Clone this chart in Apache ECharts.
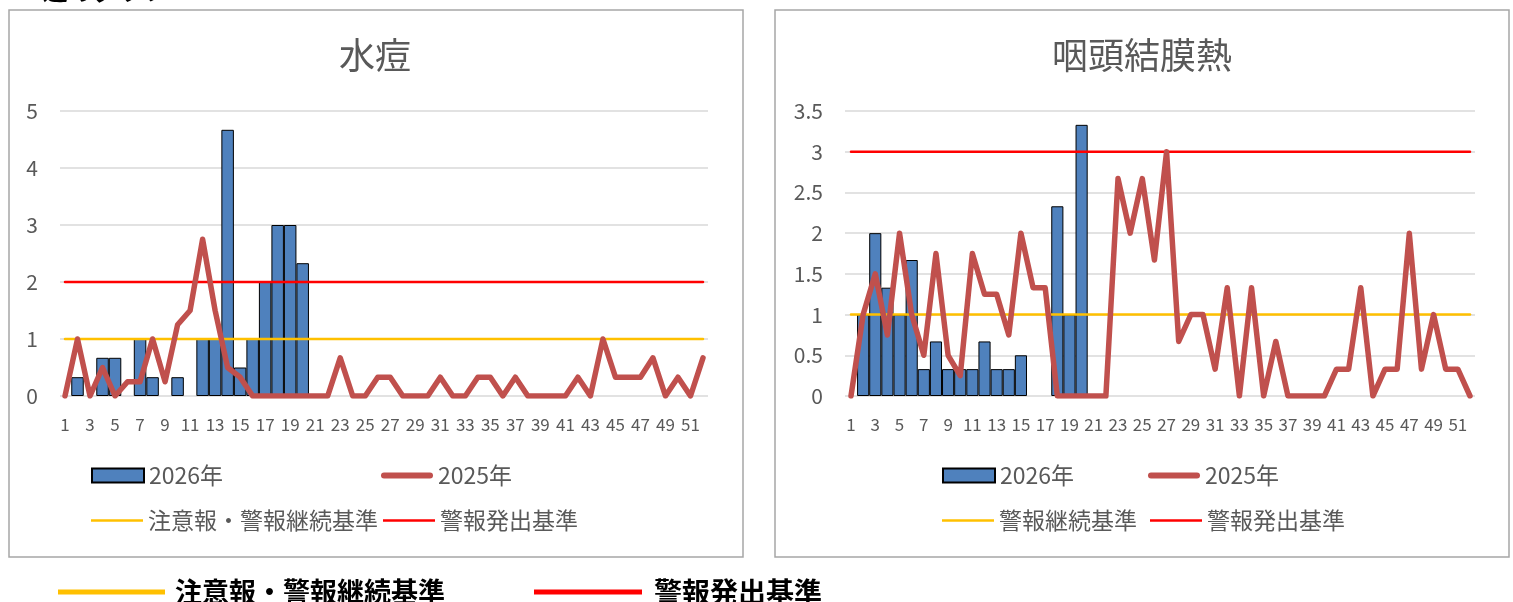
<!DOCTYPE html>
<html>
<head>
<meta charset="utf-8">
<script src="https://cdn.jsdelivr.net/npm/echarts@6/dist/echarts.min.js"></script>
<style>
html,body{margin:0;padding:0;background:#fff;}
#c{width:1513px;height:602px;}
</style>
</head>
<body>
<div id="c"></div>
<script>
// ---- data ----
const weeks = ['1','2','3','4','5','6','7','8','9','10','11','12','13','14','15','16','17','18','19','20','21','22','23','24','25','26','27','28','29','30','31','32','33','34','35','36','37','38','39','40','41','42','43','44','45','46','47','48','49','50','51','52'];

// 水痘
const mizu2026 = [0,0.33,0,0.67,0.67,0,1,0.33,0,0.33,0,1,1,4.67,0.5,1,2,3,3,2.33,
  null,null,null,null,null,null,null,null,null,null,null,null,null,null,null,null,
  null,null,null,null,null,null,null,null,null,null,null,null,null,null,null,null];
const mizu2025 = [0,1,0,0.5,0,0.25,0.25,1,0.25,1.25,1.5,2.75,1.5,0.5,0.33,0,0,0,0,0,0,0,0.67,0,0,0.33,
  0.33,0,0,0,0.33,0,0,0.33,0.33,0,0.33,0,0,0,0,0.33,0,1,0.33,0.33,0.33,0.67,0,0.33,0,0.67];
const mizuChui = [1,1,1,1,1,1,1,1,1,1,1,1,1,1,1,1,1,1,1,1,1,1,1,1,1,1,1,1,1,1,1,1,1,1,1,1,1,1,1,1,1,1,1,1,1,1,1,1,1,1,1,1];
const mizuKeiho = [2,2,2,2,2,2,2,2,2,2,2,2,2,2,2,2,2,2,2,2,2,2,2,2,2,2,2,2,2,2,2,2,2,2,2,2,2,2,2,2,2,2,2,2,2,2,2,2,2,2,2,2];

// 咽頭結膜熱
const intou2026 = [0,1,2,1.33,1,1.67,0.33,0.67,0.33,0.33,0.33,0.67,0.33,0.33,0.5,0,0,2.33,1,3.33,
  null,null,null,null,null,null,null,null,null,null,null,null,null,null,null,null,
  null,null,null,null,null,null,null,null,null,null,null,null,null,null,null,null];
const intou2025 = [0,1,1.5,0.75,2,1,0.5,1.75,0.5,0.25,1.75,1.25,1.25,0.75,2,1.33,1.33,0,0,0,
  0,0,2.67,2,2.67,1.67,3,0.67,1,1,0.33,1.33,0,1.33,0,0.67,0,0,0,0,
  0.33,0.33,1.33,0,0.33,0.33,2,0.33,1,0.33,0.33,0];
const intouKeizoku = [1,1,1,1,1,1,1,1,1,1,1,1,1,1,1,1,1,1,1,1,1,1,1,1,1,1,1,1,1,1,1,1,1,1,1,1,1,1,1,1,1,1,1,1,1,1,1,1,1,1,1,1];
const intouHasshutsu = [3,3,3,3,3,3,3,3,3,3,3,3,3,3,3,3,3,3,3,3,3,3,3,3,3,3,3,3,3,3,3,3,3,3,3,3,3,3,3,3,3,3,3,3,3,3,3,3,3,3,3,3];

const titles = ['水痘','咽頭結膜熱'];
const yTicksLeft = {min:0, max:5, interval:1};
const yTicksRight = {min:0, max:3.5, interval:0.5};

// ---- styles ----
const FONT = '"Noto Sans CJK JP","Noto Sans",sans-serif';
const GRAY = '#595959';
const GRID_TOP = 111, GRID_H = 285;
const BAR_COLOR = '#4f81bd', LINE_COLOR = '#c0504d', YEL = '#ffc000', RED = '#ff0000';

const chart = echarts.init(document.getElementById('c'), null, {renderer:'canvas'});

function catAxis(gi){
  return {type:'category', gridIndex:gi, data:weeks, boundaryGap:false,
    axisLine:{show:false}, axisTick:{show:false},
    axisLabel:{interval:1, fontSize:17, color:GRAY, fontFamily:FONT, margin:20}};
}
function hiddenX(gi){ return {type:'value', gridIndex:gi, min:0, max:1, show:false}; }
function labelY(gi, t){
  return {type:'value', gridIndex:gi, min:t.min, max:t.max, interval:t.interval,
    axisLine:{show:false}, axisTick:{show:false},
    axisLabel:{fontSize:21, color:GRAY, fontFamily:FONT, margin:22},
    splitLine:{show:true, lineStyle:{color:'#d9d9d9', width:1.5}}};
}
function hiddenY(gi, t){ return {type:'value', gridIndex:gi, min:t.min, max:t.max, interval:t.interval, show:false, splitLine:{show:false}}; }

// zero-height bars draw nothing in the reference, so they are passed as empty
function barS(name, xi, data){
  return {type:'bar', name, xAxisIndex:xi, yAxisIndex:xi, data:data.map(v => v === 0 ? null : v),
    barCategoryGap:'0%', z:2,
    itemStyle:{color:BAR_COLOR, borderColor:'#000', borderWidth:1}};
}
function lineS(name, xi, data, color, width, z){
  return {type:'line', name, xAxisIndex:xi, yAxisIndex:xi, data, symbol:'none', z,
    lineStyle:{color, width, cap:'round', join:'round'}, itemStyle:{color}};
}

const ROUND_LINE = 'path://M3,0 L49,0 A3,3 0 0 1 49,6 L3,6 A3,3 0 0 1 3,0 Z';
function legendItem(name, icon, h, left, top){
  return {data:[{name, icon}], left, top, padding:0, selectedMode:false,
    itemWidth:52, itemHeight:h,
    textStyle:{fontSize:23, color:GRAY, fontFamily:FONT}};
}
const ROW1 = 464, ROW2 = 509;

const option = {
  animation:false,
  backgroundColor:'#fff',
  title:[
    {text:titles[0], left:375, top:34, textAlign:'center', padding:0,
      textStyle:{fontSize:36, fontWeight:'normal', color:GRAY, fontFamily:FONT, lineHeight:42}},
    {text:titles[1], left:1142, top:34, textAlign:'center', padding:0,
      textStyle:{fontSize:36, fontWeight:'normal', color:GRAY, fontFamily:FONT, lineHeight:42}}
  ],
  grid:[
    {left:60, top:GRID_TOP, width:648, height:GRID_H},
    {left:65, top:GRID_TOP, width:638, height:GRID_H},
    {left:845, top:GRID_TOP, width:630, height:GRID_H},
    {left:851, top:GRID_TOP, width:619, height:GRID_H}
  ],
  xAxis:[hiddenX(0), catAxis(1), hiddenX(2), catAxis(3)],
  yAxis:[labelY(0, yTicksLeft), hiddenY(1, yTicksLeft), labelY(2, yTicksRight), hiddenY(3, yTicksRight)],
  legend:[
    legendItem('2026年', 'rect', 14, 91, ROW1),
    legendItem('2025年', ROUND_LINE, 6, 381, ROW1),
    legendItem('注意報・警報継続基準', 'rect', 2.5, 91, ROW2),
    legendItem('警報発出基準', 'rect', 2.5, 383, ROW2),
    legendItem('2026年', 'rect', 14, 942, ROW1),
    legendItem('2025年', ROUND_LINE, 6, 1148, ROW1),
    legendItem('警報継続基準', 'rect', 2.5, 942, ROW2),
    legendItem('警報発出基準', 'rect', 2.5, 1150, ROW2)
  ],
  series:[
    barS('2026年', 1, mizu2026),
    lineS('注意報・警報継続基準', 1, mizuChui, YEL, 2.5, 3),
    lineS('警報発出基準', 1, mizuKeiho, RED, 2.5, 3),
    lineS('2025年', 1, mizu2025, LINE_COLOR, 5.5, 4),
    barS('2026年', 3, intou2026),
    lineS('警報継続基準', 3, intouKeizoku, YEL, 2.5, 3),
    lineS('警報発出基準', 3, intouHasshutsu, RED, 2.5, 3),
    lineS('2025年', 3, intou2025, LINE_COLOR, 5.5, 4)
  ],
  graphic:[
    {type:'text', left:28, top:-22, style:{text:'7週のグラフ', font:'bold 25px '+FONT, fill:'#000'}},
    {type:'rect', shape:{x:9, y:10, width:734, height:547}, style:{fill:'none', stroke:'#a6a6a6', lineWidth:1.5}, silent:true},
    {type:'rect', shape:{x:775, y:10, width:734, height:547}, style:{fill:'none', stroke:'#a6a6a6', lineWidth:1.5}, silent:true},
    {type:'line', shape:{x1:58, y1:592, x2:165, y2:592}, style:{stroke:YEL, lineWidth:5}},
    {type:'text', x:175, y:592, style:{text:'注意報・警報継続基準', font:'bold 27px '+FONT, fill:'#000', textVerticalAlign:'middle', verticalAlign:'middle'}},
    {type:'line', shape:{x1:534, y1:592, x2:642, y2:592}, style:{stroke:RED, lineWidth:5}},
    {type:'text', x:654, y:592, style:{text:'警報発出基準', font:'bold 28px '+FONT, fill:'#000', textVerticalAlign:'middle', verticalAlign:'middle'}}
  ]
};
chart.setOption(option);
</script>
</body>
</html>
